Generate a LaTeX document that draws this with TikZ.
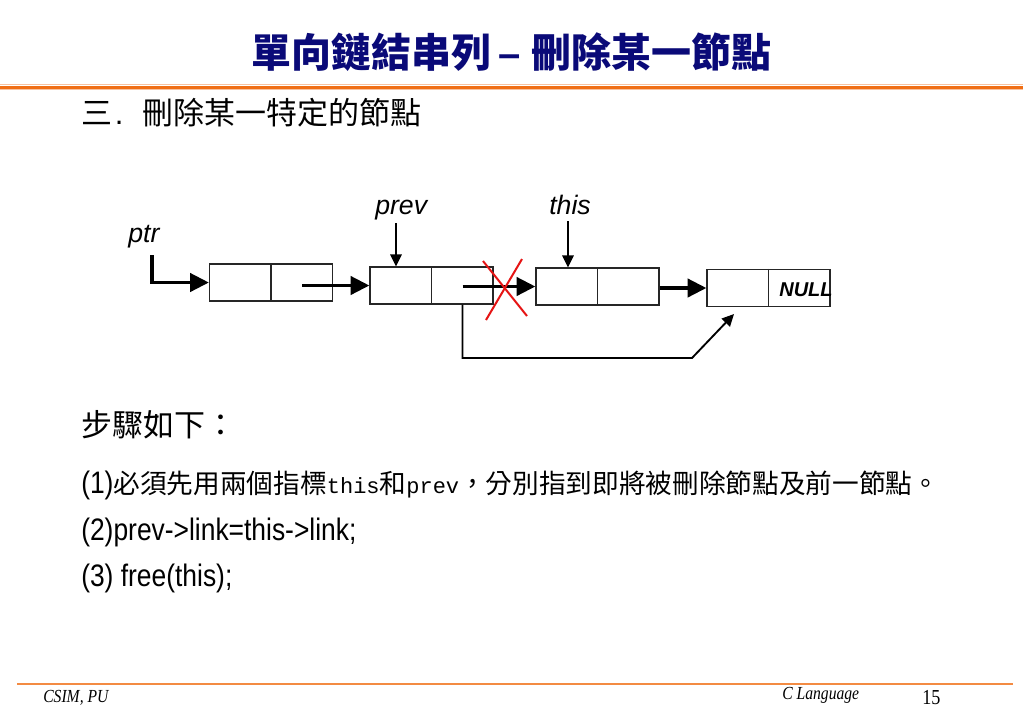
\documentclass[tikz,border=0pt]{standalone}
\usepackage{fontspec}
\setmainfont{Liberation Serif}
\newfontfamily\cjk{Noto Sans CJK TC}
\newfontfamily\arialn[FakeStretch=0.85]{Liberation Sans}
\newfontfamily\arial{Liberation Sans}
\newfontfamily\monof{Liberation Mono}
\newfontfamily\timesn[FakeStretch=0.85]{Liberation Serif}
\usetikzlibrary{arrows.meta,calc}
\definecolor{navy}{RGB}{10,10,120}
\definecolor{orangeA}{RGB}{240,110,20}
\definecolor{orangeL}{RGB}{248,195,160}
\definecolor{xred}{RGB}{230,20,20}
\begin{document}
\begin{tikzpicture}[x=0.75pt,y=-0.75pt,
  cell/.style={draw=black!85,line width=0.9pt,minimum width=92.25pt,minimum height=27.75pt,inner sep=0pt},
  bigarrow/.style={line width=2.8pt,-{Triangle[length=14pt,width=13.5pt]}},
  thinarrow/.style={line width=1.4pt,-{Triangle[length=9pt,width=8.5pt]}},
  lbl/.style={font=\arial\itshape\fontsize{20}{24}\selectfont,inner sep=0pt,anchor=base west},
  txt/.style={inner sep=0pt,anchor=west},
  foot/.style={inner sep=0pt,anchor=base west},
]
\fill[white] (0,0) rectangle (1023,708);
\useasboundingbox (0,0) rectangle (1023,708);

% title and rules
\node[inner sep=0pt,text=navy,font=\cjk\bfseries\fontsize{30}{34}\selectfont] (title) at (511.5,52) {單向鏈結串列\hspace{5pt}{\arial\bfseries –}\hspace{8pt}刪除某一節點};
\draw[orangeL,line width=1.4pt] (0,84.5) -- (1023,84.5);
\draw[orangeA,line width=2.5pt] (0,87.4) -- (1023,87.4);
\draw[orangeL,line width=0.8pt] (0,89.6) -- (1023,89.6);

\node[txt,font=\cjk\fontsize{23.25}{26}\selectfont] (sub) at (81,113) {三\hspace{2pt}{\arial .}\hspace{14.5pt}刪除某一特定的節點};

% list nodes
\node[cell] (b1) at (271,282.5) {};
\node[cell] (b2) at (431.5,285.5) {};
\node[cell] (b3) at (597.5,286.5) {};
\node[cell] (b4) at (768.5,288) {};
\foreach \b in {b1,b2,b3,b4} \draw[black!85,line width=0.9pt] (\b.north) -- (\b.south);
\node[inner sep=0pt,font=\arial\bfseries\itshape\fontsize{15}{18}\selectfont] (null) at (806,289.5) {NULL};

% labels
\node[lbl] (ptr) at (128,242) {ptr};
\node[lbl] (prev) at (375,214) {prev};
\node[lbl] (this) at (549,214) {this};

% pointers
\coordinate (p0) at (152,255);
\coordinate (r1) at ($(b1.center)!0.5!(b1.east)$);
\coordinate (r2) at ($(b2.center)!0.5!(b2.east)$);
\draw[bigarrow] (p0) |- (b1.west);
\draw[bigarrow] (r1 |- b2.west) -- (b2.west);
\draw[bigarrow] (r2 |- b3.west) -- (b3.west);
\draw[bigarrow] (b3.east |- b4.west) -- (b4.west);
\coordinate (pa) at (396,223);
\draw[thinarrow] (pa) -- (pa |- b2.north);
\coordinate (ta) at (568,221);
\draw[thinarrow] (ta) -- (ta |- b3.north);

% bypass link
\coordinate (bs) at ($(b2.south)!0.5!(b2.south east)$);
\coordinate (bend) at (692,358);
\coordinate (btip) at (734,314);
\draw[thinarrow] (bs) |- (bend) -- (btip);

% red cross
\draw[xred,line width=1.5pt] (483,261) -- (527,316);
\draw[xred,line width=1.5pt] (522,259) -- (486,320);

% steps
\node[txt,font=\cjk\fontsize{23.25}{26}\selectfont] (steps) at (81,425) {步驟如下：};
\node[txt,font=\cjk\fontsize{20}{24}\selectfont] (s1) at (81,485) {{\arialn\fontsize{23.3}{26}\selectfont (1)}必須先用兩個指標{\monof\fontsize{16.5}{20}\selectfont this}和{\monof\fontsize{16.5}{20}\selectfont prev}，分別指到即將被刪除節點及前一節點。};
\node[txt,font=\arialn\fontsize{23.3}{26}\selectfont] (s2) at (81,532) {(2)prev->link=this->link;};
\node[txt,font=\arialn\fontsize{23.3}{26}\selectfont] (s3) at (81,578) {(3) free(this);};

% footer
\draw[orangeA!80,line width=1.1pt] (17,684) -- (1013,684);
\node[foot,font=\timesn\itshape\fontsize{13.8}{16}\selectfont] (f1) at (43,702) {CSIM, PU};
\node[foot,font=\timesn\itshape\fontsize{13.8}{16}\selectfont] (f2) at (782,699) {C Language};
\node[foot,font=\timesn\fontsize{16}{18}\selectfont] (f3) at (922,704) {15};
\end{tikzpicture}
\end{document}
